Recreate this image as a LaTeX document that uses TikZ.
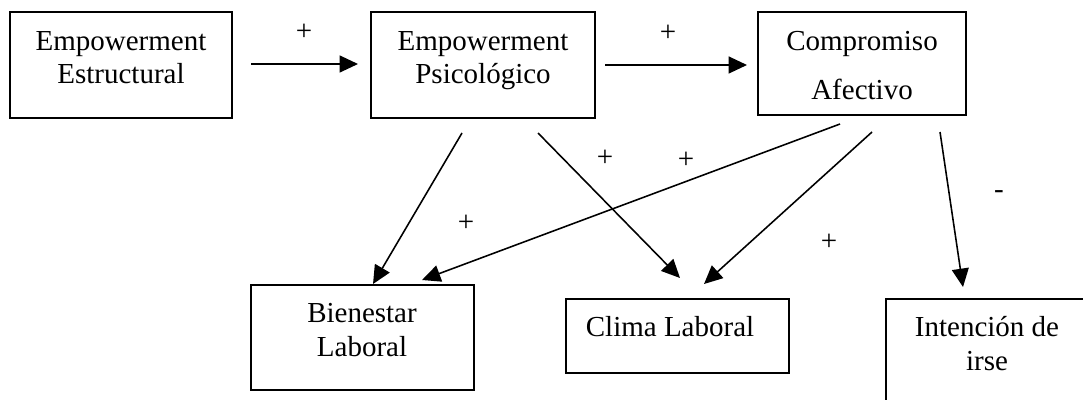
\documentclass[tikz,border=0pt]{standalone}
\usepackage{fontspec}
\setmainfont{Liberation Serif}
\usetikzlibrary{arrows.meta}

\newcommand{\pxl}{0.4138pt}
\tikzset{
  box/.style={draw, black, line width=0.8pt, inner sep=0pt},
  lbl/.style={align=center, inner sep=0pt, font=\fontsize{12}{13.8}\selectfont},
  sgn/.style={inner sep=0pt, font=\fontsize{12}{13.8}\selectfont},
  flecha/.style={black, line width=0.65pt, -{Triangle[length=7.6pt,width=7pt]}}
}

\begin{document}
\begin{tikzpicture}[x=0.4138pt,y=-0.4138pt]
\clip (0,0) rectangle (1083,399);
% cajas
\node[box, minimum width=222*\pxl, minimum height=106*\pxl] (estr) at (121,65) {};
\node[box, minimum width=224*\pxl, minimum height=106*\pxl] (psic) at (483,65) {};
\node[box, minimum width=208*\pxl, minimum height=103*\pxl] (comp) at (862,63.5) {};
\node[box, minimum width=223*\pxl, minimum height=105*\pxl] (bien) at (362.5,337.5) {};
\node[box, minimum width=223*\pxl, minimum height=74*\pxl] (clima) at (677.5,336) {};
\node[box, minimum width=202*\pxl, minimum height=111*\pxl] (inten) at (987,354.5) {};
% textos
\node[lbl] (estr-t) at (121,57.5) {Empowerment\\Estructural};
\node[lbl] (psic-t) at (483,60.5) {Empowerment\\Psicológico};
\node[lbl, font=\fontsize{12}{20.3}\selectfont] (comp-t) at (862,65.5) {Compromiso\\Afectivo};
\node[lbl] (bien-t) at (362,330) {Bienestar\\Laboral};
\node[lbl] (clima-t) at (670,327) {Clima Laboral};
\node[lbl] (inten-t) at (987,343.5) {Intención de\\irse};
% extremos de las flechas
\coordinate (e1) at (251,64);
\coordinate (p1) at (358,64);
\coordinate (p2) at (605,65);
\coordinate (c1) at (747,65);
\coordinate (pa) at (462,133);
\coordinate (pb) at (538,133);
\coordinate (ca) at (840,124);
\coordinate (cb) at (872,132);
\coordinate (cc) at (940,132);
\coordinate (b1) at (373,284);
\coordinate (b2) at (422,280);
\coordinate (l1) at (680,278);
\coordinate (l2) at (704,284);
\coordinate (i1) at (963,287);
% flechas
\draw[flecha] (e1) -- (p1);
\draw[flecha] (p2) -- (c1);
\draw[flecha] (pa) -- (b1);
\draw[flecha] (pb) -- (l1);
\draw[flecha] (ca) -- (b2);
\draw[flecha] (cb) -- (l2);
\draw[flecha] (cc) -- (i1);
% signos
\node[sgn] (s1) at (304,32) {+};
\node[sgn] (s2) at (668,33) {+};
\node[sgn] (s3) at (605,158) {+};
\node[sgn] (s4) at (686,160) {+};
\node[sgn] (s5) at (466,223) {+};
\node[sgn] (s6) at (829,242) {+};
\node[sgn] (s7) at (999,195) {-};
\end{tikzpicture}
\end{document}
